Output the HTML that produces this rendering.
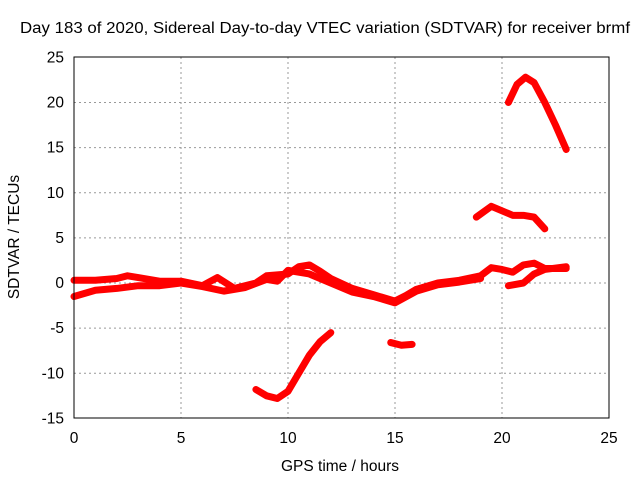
<!DOCTYPE html>
<html><head><meta charset="utf-8"><style>
body{margin:0;background:#fff}
svg{display:block;font-family:"Liberation Sans",sans-serif;font-size:15.5px}
</style></head><body>
<svg id="c" width="640" height="480">
<rect width="640" height="480" fill="#fff"/>
<text x="20" y="33" textLength="610" lengthAdjust="spacingAndGlyphs">Day 183 of 2020, Sidereal Day-to-day VTEC variation (SDTVAR) for receiver brmf</text>
<text x="340" y="471" text-anchor="middle">GPS time / hours</text>
<text transform="translate(19,237) rotate(-90)" text-anchor="middle">SDTVAR / TECUs</text>
<g id="grid"></g><g id="series"></g>
<rect x="74" y="57" width="535" height="361" fill="none" stroke="#000"/>
</svg>
<script>
const xTicks=[0,5,10,15,20,25];
const yTicks=[25,20,15,10,5,0,-5,-10,-15];
const bandUpperX=[0,1,2,2.5,3,4,5,6,6.7,7.5,8.5,9,10,10.5,11,11.5,12,13,14,15,15.5,16,17,18,19,19.5,20,20.5,21,21.5,22,23];
const bandUpperY=[0.3,0.3,0.5,0.8,0.6,0.2,0.2,-0.3,0.6,-0.6,0,0.8,1,1.8,2,1.3,0.5,-0.6,-1.3,-2,-1.4,-0.7,0,0.3,0.8,1.7,1.5,1.2,2,2.2,1.6,1.6];
const bandLowerX=[0,1,2,3,4,5,6,7,8,9,9.5,10,11,12,13,14,15,16,17,18,19];
const bandLowerY=[-1.5,-0.8,-0.6,-0.3,-0.3,0,-0.4,-0.9,-0.5,0.4,0.2,1.4,1,0,-1,-1.5,-2.2,-0.9,-0.2,0.1,0.5];
const lateX=[20.3,21,21.5,22,23];
const lateY=[-0.3,0,1,1.5,1.8];
const dipX=[8.5,9,9.5,10,10.5,11,11.5,12];
const dipY=[-11.8,-12.5,-12.8,-12,-10,-8,-6.5,-5.5];
const smallX=[14.8,15.3,15.8];
const smallY=[-6.6,-6.9,-6.8];
const midX=[18.8,19.5,20,20.5,21,21.5,22];
const midY=[7.3,8.5,8,7.5,7.5,7.3,6];
const topX=[20.3,20.7,21.1,21.5,22,22.5,23];
const topY=[20,22,22.8,22.2,20,17.5,14.8];
const X=h=>74+h*(535/25), Y=v=>283-v*(361/40);
const NS="http://www.w3.org/2000/svg";
const svg=document.getElementById('c'),g=document.getElementById('grid'),s=document.getElementById('series');
function mk(p,t,a){const e=document.createElementNS(NS,t);for(const k in a)e.setAttribute(k,a[k]);p.appendChild(e);return e;}
xTicks.forEach(t=>{const x=X(t);
 if(t>0&&t<25){const l=mk(g,'line',{x1:x,x2:x,y1:57,y2:418,stroke:'#999','stroke-dasharray':'2,3'});
 
 }
 const tx=mk(svg,'text',{x:x,y:443,'text-anchor':'middle'});tx.textContent=t;
 
 });
yTicks.forEach(t=>{const y=Y(t);
 if(t<25&&t>-15){const l=mk(g,'line',{x1:74,x2:609,y1:y,y2:y,stroke:'#999','stroke-dasharray':'2,3'});
 
 }
 const tx=mk(svg,'text',{x:64,y:y+5,'text-anchor':'end'});tx.textContent=t;
 
 });
function line(xs,ys,name){const p=mk(s,'polyline',{points:xs.map((h,i)=>X(h)+','+Y(ys[i])).join(' '),fill:'none',stroke:'#f00','stroke-width':7,'stroke-linejoin':'round','stroke-linecap':'round'});
 
 }
line(bandUpperX,bandUpperY,'series-upper-band');
line(bandLowerX,bandLowerY,'series-lower-band');
line(lateX,lateY,'series-late');
line(dipX,dipY,'series-dip');
line(smallX,smallY,'series-small');
line(midX,midY,'series-mid');
line(topX,topY,'series-top');
</script>
</body></html>
